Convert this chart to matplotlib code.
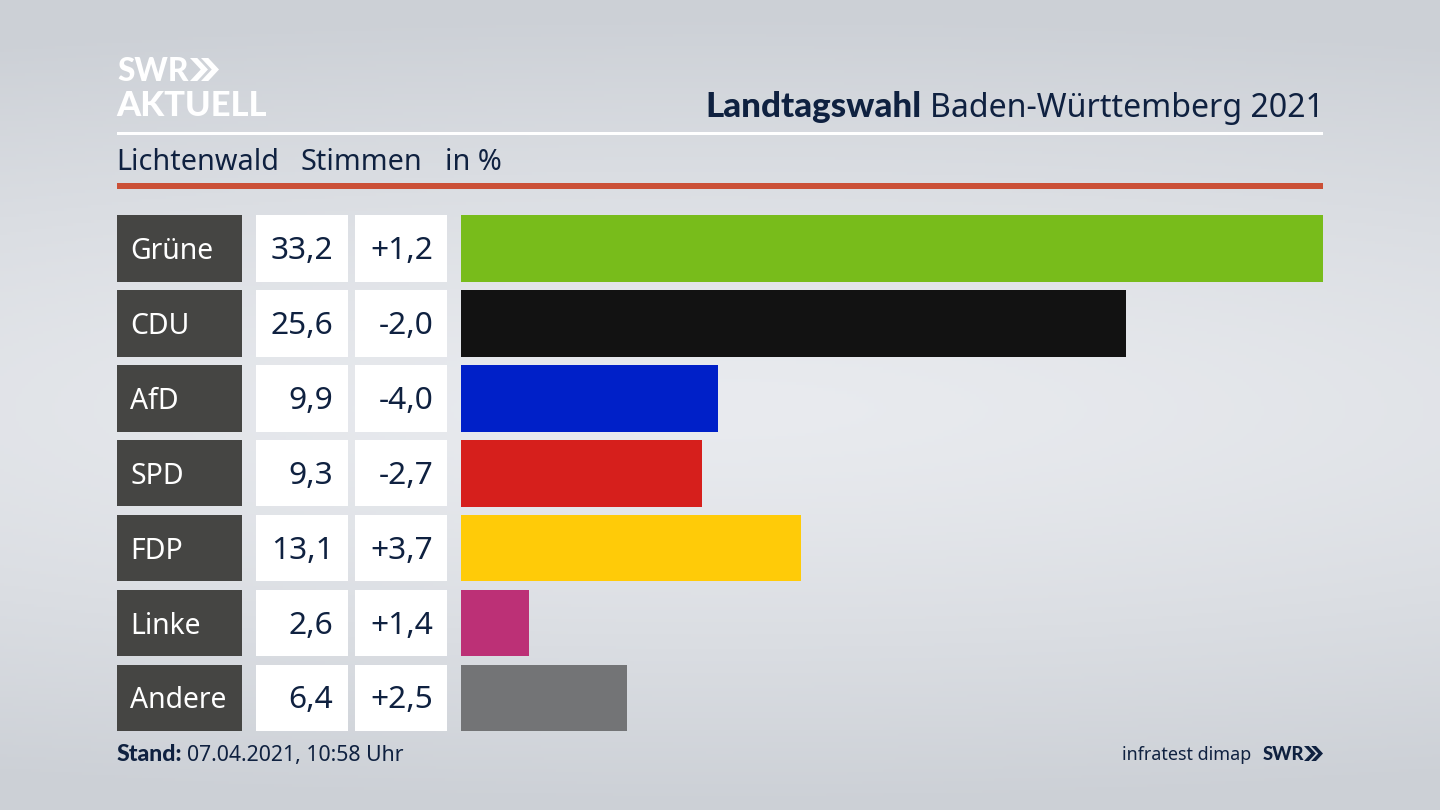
import numpy as np
import matplotlib
matplotlib.use("Agg")
import matplotlib.pyplot as plt
from matplotlib.patches import Rectangle, Polygon

plt.rcParams['font.family'] = ['Noto Sans', 'DejaVu Sans']
BOLD = ['Lato', 'DejaVu Sans']

parties = ["Grüne", "CDU", "AfD", "SPD", "FDP", "Linke", "Andere"]
shares = [33.2, 25.6, 9.9, 9.3, 13.1, 2.6, 6.4]
changes = ["+1,2", "-2,0", "-4,0", "-2,7", "+3,7", "+1,4", "+2,5"]
colors = ["#78bc1b", "#121212", "#0020c8", "#d61f1c", "#ffcb08", "#bc3076", "#737476"]

NAVY = "#0f2140"
W, H = 1440, 810
fig = plt.figure(figsize=(14.4, 8.1), dpi=100)

bg = fig.add_axes([0, 0, 1, 1])
yy, xx = np.mgrid[0:H:270j, 0:W:480j]
d = np.sqrt(((xx - 720) / 2000) ** 2 + ((yy - 410) / 400) ** 2)
d = np.clip(d, 0, 1)
top = np.array([0xe9, 0xeb, 0xef]); edge = np.array([0xcc, 0xd0, 0xd6])
img = top[None, None, :] + (edge - top)[None, None, :] * (d[..., None] ** 1.3)
bg.imshow(img.astype(np.uint8), extent=(0, W, H, 0), aspect="auto", zorder=0, interpolation="bilinear")
bg.set_xlim(0, W); bg.set_ylim(H, 0); bg.axis("off")


def chevrons(x, y, w, h, color):
    """Logo glyph: two nested chevrons in box (x, y, w, h)."""
    t = w * 0.25
    for off in (0, w * 0.38):
        tip = x + off + w * 0.62
        bg.add_patch(Polygon([(x + off, y), (x + off + t, y), (tip, y + h / 2),
                              (x + off + t, y + h), (x + off, y + h), (tip - t, y + h / 2)],
                             closed=True, color=color, lw=0, zorder=3))


# header
bg.text(117, 81, "SWR", color="white", fontsize=22.8, family=BOLD, fontweight="black", va="baseline", ha="left")
chevrons(190, 58, 29, 23, "white")
bg.text(116.5, 116, "AKTUELL", color="white", fontsize=24.8, family=BOLD, fontweight="black", va="baseline", ha="left")
bg.text(921, 117, "Landtagswahl", color=NAVY, fontsize=25.2, family=BOLD, fontweight="black", va="baseline", ha="right")
bg.text(1323.5, 117, "Baden-Württemberg 2021", color=NAVY, fontsize=23.1, va="baseline", ha="right")
bg.add_patch(Rectangle((117, 132), 1206, 3, color="white", lw=0, zorder=2))
for x, s in [(116, "Lichtenwald"), (300, "Stimmen"), (445, "in %")]:
    bg.text(x, 170, s, color=NAVY, fontsize=20.7, va="baseline", ha="left")
bg.add_patch(Rectangle((117, 183), 1206, 6, color="#cb5037", lw=0, zorder=2))

# table rows
for i, (p, s, c) in enumerate(zip(parties, shares, changes)):
    y0 = 215 + 74.93 * i
    h = 66.7
    base = y0 + h / 2 + 10.5
    bg.add_patch(Rectangle((117, y0), 124.5, h, color="#454543", lw=0, zorder=2))
    bg.add_patch(Rectangle((256, y0), 92, h, color="white", lw=0, zorder=2))
    bg.add_patch(Rectangle((355, y0), 92, h, color="white", lw=0, zorder=2))
    bg.text(130.5, base, p, color="white", fontsize=20.4, va="baseline", ha="left", zorder=3)
    bg.text(333.5, base, f"{s:.1f}".replace(".", ","), color=NAVY, fontsize=22.8, va="baseline", ha="right", zorder=3)
    bg.text(433, base, c, color=NAVY, fontsize=22.8, va="baseline", ha="right", zorder=3)

# footer
bg.text(117, 761, "Stand:", color=NAVY, fontsize=16.6, family=BOLD, fontweight="black", va="baseline", ha="left")
bg.text(187, 761, "07.04.2021, 10:58 Uhr", color=NAVY, fontsize=15.3, va="baseline", ha="left")
bg.text(1251, 760, "infratest dimap", color=NAVY, fontsize=12.9, va="baseline", ha="right")
bg.text(1263, 760, "SWR", color=NAVY, fontsize=13.2, family=BOLD, fontweight="black", va="baseline", ha="left")
chevrons(1304, 746, 19, 15, NAVY)

# bars through a data axis
ax = fig.add_axes([461 / W, 1 - (210.95 + 524.5) / H, (1323 - 461) / W, 524.5 / H])
ax.patch.set_alpha(0)
ax.barh(range(len(parties)), shares, height=0.89, color=colors, linewidth=0)
ax.set_xlim(0, 33.2)
ax.set_ylim(len(parties) - 0.5, -0.5)
ax.axis("off")

fig.savefig("out.png", dpi=100)
